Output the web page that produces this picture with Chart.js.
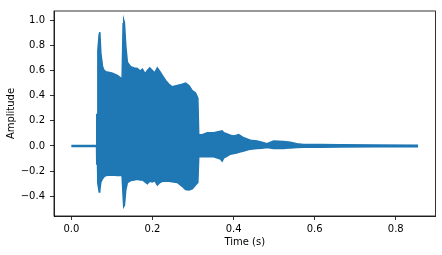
<!DOCTYPE html>
<html>
<head>
<meta charset="utf-8">
<script src="https://cdn.jsdelivr.net/npm/chart.js@4/dist/chart.umd.min.js"></script>
<style>
html,body{margin:0;padding:0;background:#fff;}
canvas{display:block;}
</style>
</head>
<body>
<canvas id="c" width="442" height="255"></canvas>
<script>
// Envelope of the waveform (time in s, amplitude)
const times = [0.000,0.0619,0.0625,0.0643,0.0652,0.0685,0.0700,0.0725,0.0767,0.0807,0.0848,0.0995,0.1134,0.1234,0.1250,0.1275,0.1290,0.1307,0.1340,0.1380,0.1460,0.1545,0.1627,0.1693,0.1750,0.1815,0.1873,0.1930,0.1996,0.2053,0.2119,0.2184,0.2242,0.2324,0.2405,0.2487,0.2610,0.2733,0.2815,0.2897,0.2980,0.3061,0.3118,0.3140,0.3225,0.3350,0.3510,0.3676,0.3717,0.3758,0.3840,0.3920,0.4003,0.4070,0.4126,0.4250,0.4414,0.4577,0.4700,0.4823,0.4987,0.5233,0.5397,0.5560,0.5725,0.6135,0.6627,0.7500,0.8550];
const upper = [0.004,0.004,0.25,0.25,0.76,0.89,0.905,0.74,0.63,0.60,0.59,0.58,0.56,0.535,0.54,0.97,1.00,0.98,0.80,0.665,0.63,0.62,0.615,0.595,0.61,0.575,0.60,0.62,0.60,0.58,0.62,0.59,0.56,0.52,0.49,0.47,0.48,0.49,0.50,0.48,0.44,0.42,0.38,0.09,0.09,0.105,0.105,0.117,0.12,0.105,0.095,0.085,0.08,0.085,0.09,0.065,0.045,0.04,0.03,0.018,0.039,0.035,0.03,0.018,0.012,0.012,0.010,0.008,0.006];
const lower = [-0.004,-0.004,-0.143,-0.143,-0.30,-0.365,-0.35,-0.287,-0.26,-0.243,-0.235,-0.23,-0.235,-0.235,-0.24,-0.40,-0.48,-0.47,-0.35,-0.29,-0.275,-0.27,-0.265,-0.27,-0.27,-0.285,-0.30,-0.28,-0.285,-0.275,-0.31,-0.29,-0.28,-0.28,-0.28,-0.285,-0.29,-0.32,-0.345,-0.35,-0.34,-0.31,-0.29,-0.085,-0.085,-0.085,-0.085,-0.104,-0.12,-0.095,-0.08,-0.065,-0.06,-0.055,-0.05,-0.04,-0.025,-0.02,-0.018,-0.013,-0.02,-0.02,-0.015,-0.012,-0.01,-0.01,-0.008,-0.007,-0.006];
const xTicks = [0, 0.2, 0.4, 0.6, 0.8];
const xTickLabels = ['0.0', '0.2', '0.4', '0.6', '0.8'];
const yTicks = [-0.4, -0.2, 0, 0.2, 0.4, 0.6, 0.8, 1.0];
const yTickLabels = ['\u22120.4', '\u22120.2', '0.0', '0.2', '0.4', '0.6', '0.8', '1.0'];

const BLUE = '#1f77b4';
const FONT = {family: 'DejaVu Sans', size: 10};

const frame = {
  id: 'frame',
  afterDraw(chart) {
    const a = chart.chartArea, ctx = chart.ctx;
    ctx.save();
    ctx.strokeStyle = '#000';
    ctx.lineWidth = 0.8;
    ctx.strokeRect(a.left, a.top, a.right - a.left, a.bottom - a.top);
    ctx.restore();
  }
};

new Chart(document.getElementById('c'), {
  type: 'line',
  data: {
    datasets: [
      {data: times.map((t, i) => ({x: t, y: upper[i]})), borderColor: BLUE, backgroundColor: BLUE, borderWidth: 1.5, pointRadius: 0, tension: 0, fill: '+1'},
      {data: times.map((t, i) => ({x: t, y: lower[i]})), borderColor: BLUE, backgroundColor: BLUE, borderWidth: 1.5, pointRadius: 0, tension: 0, fill: false}
    ]
  },
  options: {
    responsive: false,
    animation: false,
    devicePixelRatio: 1,
    layout: {padding: {top: 8, right: 6.5, left: 0, bottom: 0}},
    plugins: {legend: {display: false}, tooltip: {enabled: false}},
    scales: {
      x: {
        type: 'linear', min: -0.043, max: 0.898,
        afterBuildTicks: s => { s.ticks = xTicks.map(v => ({value: v})); },
        afterFit: s => { s.height = 39; },
        ticks: {callback: (v, i) => xTickLabels[i], font: FONT, color: '#000', padding: 3, maxRotation: 0, autoSkip: false},
        grid: {drawOnChartArea: false, drawTicks: true, tickLength: 4, tickColor: '#000', tickWidth: 0.8},
        border: {display: true, color: '#000', width: 0.8},
        title: {display: true, text: 'Time (s)', font: FONT, color: '#000', padding: {top: 0, bottom: 7}}
      },
      y: {
        type: 'linear', min: -0.556, max: 1.072,
        afterBuildTicks: s => { s.ticks = yTicks.map(v => ({value: v})); },
        afterFit: s => { s.width = 54; },
        ticks: {callback: (v, i) => yTickLabels[i], font: FONT, color: '#000', padding: 5, autoSkip: false},
        grid: {drawOnChartArea: false, drawTicks: true, tickLength: 4, tickColor: '#000', tickWidth: 0.8},
        border: {display: true, color: '#000', width: 0.8},
        title: {display: true, text: 'Amplitude', font: FONT, color: '#000', padding: {top: 5, bottom: 0}}
      }
    }
  },
  plugins: [frame]
});
</script>
</body>
</html>
